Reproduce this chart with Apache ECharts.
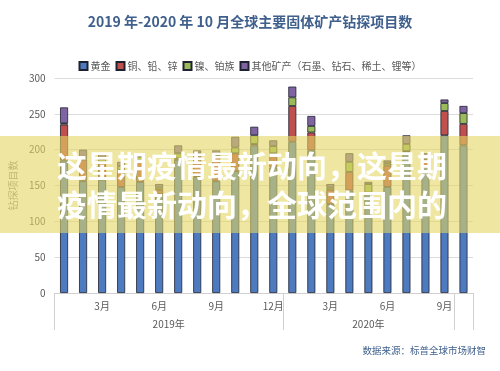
<!DOCTYPE html>
<html>
<head>
<meta charset="utf-8">
<script src="https://cdn.jsdelivr.net/npm/echarts@6/dist/echarts.min.js"></script>
<style>
html,body{margin:0;padding:0;background:#fff;}
#c{width:500px;height:371px;}
</style>
</head>
<body>
<div id="c"></div>
<script>
var categories = ['2019年1月','2019年2月','2019年3月','2019年4月','2019年5月','2019年6月','2019年7月','2019年8月','2019年9月','2019年10月','2019年11月','2019年12月',
  '2020年1月','2020年2月','2020年3月','2020年4月','2020年5月','2020年6月','2020年7月','2020年8月','2020年9月','2020年10月'];
var seriesNames = ['黄金','铜、铅、锌','镍、铂族','其他矿产（石墨、钻石、稀土、锂等）'];
var gold  = [185,156,158,148,155,138,186,162,156,170,206,175, 211,199,124,143,138,148,196,177,220,206];
var copper= [50,30,25,24,30,6,2,30,35,25,2,20, 50,25,20,26,2,30,2,10,34,30];
var nickel= [2,4,4,5,5,3,7,3,3,8,12,10, 12,9,3,14,12,3,10,4,11,15];
var other = [22,10,8,6,5,5,11,4,5,15,12,8, 15,14,5,12,3,4,12,4,5,10];
var yTicks = [0,50,100,150,200,250,300];
var colors = ['#4E7BC0','#C0504D','#9BBB59','#8064A2'];

var chart = echarts.init(document.getElementById('c'), null, {renderer:'canvas'});
var font = '"Noto Sans CJK SC","Noto Sans",sans-serif';
var vals = [gold, copper, nickel, other];
var series = seriesNames.map(function(n, k){
  return {
    name: n, type: 'bar', stack: 's', barWidth: 8,
    data: vals[k],
    itemStyle: {color: colors[k], borderColor: '#1e2230', borderWidth: 0.8},
    xAxisIndex: 0, yAxisIndex: 0
  };
});
chart.setOption({
  animation: false,
  textStyle: {fontFamily: font},
  title: {
    text: '2019 年-2020 年 10 月全球主要固体矿产钻探项目数',
    left: 'center', top: 10,
    textStyle: {color: '#3F5F8C', fontSize: 14, fontWeight: 'bold', fontFamily: font}
  },
  legend: {
    top: 56, left: 'center',
    itemWidth: 8, itemHeight: 8, itemGap: 5,
    icon: 'rect',
    textStyle: {color: '#595959', fontSize: 10, fontFamily: font, padding:[0,0,0,-2]},
    data: seriesNames
  },
  grid: {left: 52, right: 27, top: 78, bottom: 78, containLabel: false},
  xAxis: [{
    type: 'category', data: categories, position: 'bottom',
    axisLine: {show: true, lineStyle: {color: '#d0d0d0'}},
    axisTick: {show: false},
    axisLabel: {
      color: '#595959', fontSize: 10, margin: 8,
      interval: function(i, v){ var m = parseInt(v.split('年')[1]); return m % 3 === 0; },
      formatter: function(v){ return v.split('年')[1]; }
    },
    splitLine: {show: false}
  },{
    type: 'category', data: categories, position: 'bottom',
    axisLine: {show: false},
    axisTick: {show: true, length: 37, lineStyle: {color: '#d0d0d0'},
      interval: function(i, v){ return v === '2019年1月' || v === '2020年1月' || v === '2020年10月'; }},
    axisLabel: {
      color: '#595959', fontSize: 10, margin: 26,
      interval: function(i, v){ return v === '2019年7月' || v === '2020年5月'; },
      formatter: function(v){
        var y = v.split('年')[0] + '年';
        return v === '2019年7月' ? '{a|' + y + '}' : '{b|' + y + '}';
      },
      rich: {
        a: {padding: [0, 19, 0, 0], color: '#595959', fontSize: 10},
        b: {color: '#595959', fontSize: 10}
      }
    },
    splitLine: {show: false}
  }],
  yAxis: {
    type: 'value', min: 0, max: 300, interval: 50,
    name: '钻探项目数', nameLocation: 'middle', nameGap: 30,
    nameTextStyle: {color: '#8c8c8c', fontSize: 10},
    axisLine: {show: false}, axisTick: {show: false},
    axisLabel: {color: '#595959', fontSize: 10, margin: 9,
      formatter: function(v){ return yTicks.indexOf(v) >= 0 ? String(v) : ''; }},
    splitLine: {lineStyle: {color: '#dcdcdc', width: 1}}
  },
  series: series,
  graphic: [
    {type: 'rect', z: 100, shape: {x: 0, y: 136, width: 500, height: 97},
      style: {fill: 'rgba(226,214,98,0.6)'}},
    {type: 'text', z: 101, left: 57, top: 151,
      style: {text: '这星期疫情最新动向，这星期', fill: '#ffffff', font: 'bold 30px "Noto Sans CJK SC"',
        shadowColor: 'rgba(0,0,0,0.35)', shadowBlur: 3}},
    {type: 'text', z: 101, left: 57, top: 190,
      style: {text: '疫情最新动向，全球范围内的', fill: '#ffffff', font: 'bold 30px "Noto Sans CJK SC"',
        shadowColor: 'rgba(0,0,0,0.35)', shadowBlur: 3}},
    {type: 'text', z: 50, right: 14, top: 346,
      style: {text: '数据来源：标普全球市场财智', fill: '#3F5F8C', font: '9.5px "Noto Sans CJK SC"'}}
  ]
});
</script>
</body>
</html>
